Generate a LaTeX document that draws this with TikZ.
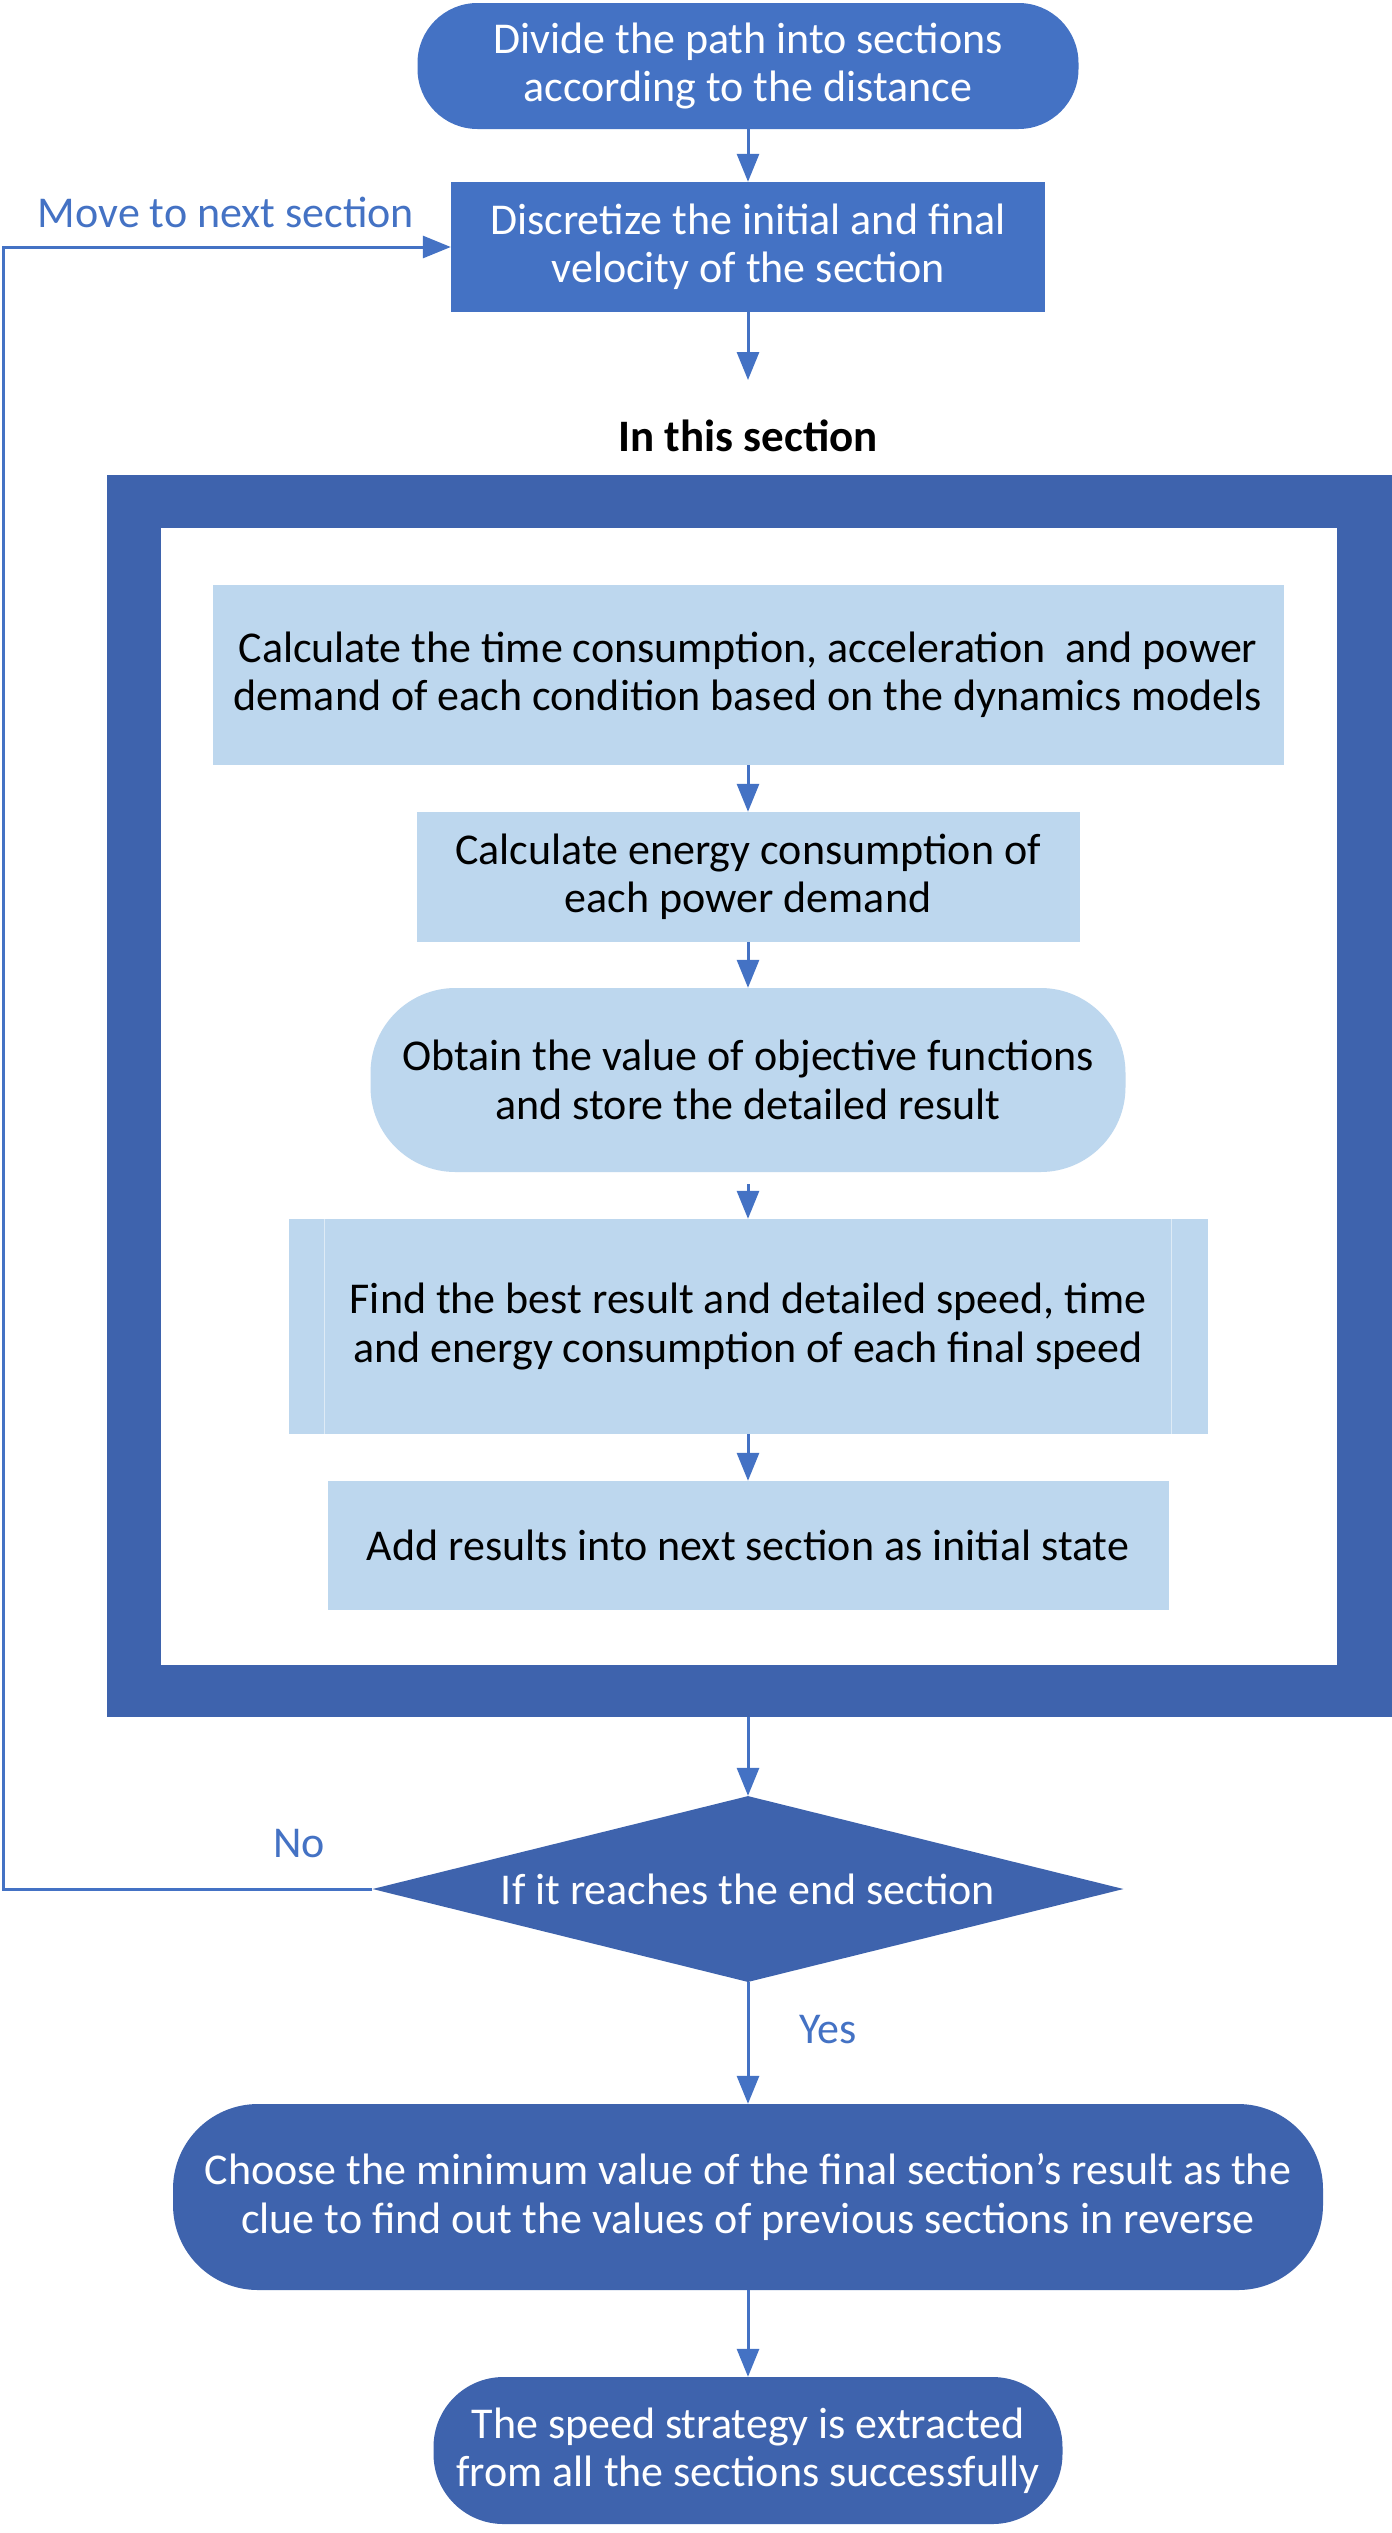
\documentclass[tikz,border=0pt]{standalone}
\usepackage{fontspec}
\setmainfont{Carlito}
\usetikzlibrary{arrows.meta,shapes.geometric}
\definecolor{mid}{HTML}{4472C4}
\definecolor{dark}{HTML}{3E63AD}
\definecolor{light}{HTML}{BDD7EE}
\tikzset{
  x=1pt,y=-1pt,
  txt/.style={font=\fontsize{44}{48.5}\selectfont,align=center,inner sep=0pt},
  midterm/.style={txt,fill=mid,text=white,rounded corners=60pt},
  midbox/.style={txt,fill=mid,text=white},
  lightbox/.style={txt,fill=light,text=black},
  lightterm/.style={txt,fill=light,text=black,rounded corners=85pt},
  darkterm/.style={txt,fill=dark,text=white,rounded corners=85pt},
  conn/.style={draw=mid,line width=3pt,-{Triangle[length=28pt,width=22pt]}},
  lbl/.style={font=\fontsize{44}{48.5}\selectfont,text=mid,inner sep=0pt},
}
\begin{document}
\begin{tikzpicture}
\useasboundingbox[fill=white] (0,0) rectangle (1392,2533);
% frame
\node[fill=dark,minimum width=1285pt,minimum height=1242pt,inner sep=0pt] (frame) at (749.5,1096) {};
\node[fill=white,minimum width=1176pt,minimum height=1137pt,inner sep=0pt] (inner) at (749,1096.5) {};

\node[midterm,minimum width=661pt,minimum height=126pt] (start) at (748,66) {Divide the path into sections\\according to the distance};
\node[midbox,minimum width=594pt,minimum height=130pt] (disc) at (748,247) {Discretize the initial and final\\velocity of the section};
\node[font=\bfseries\fontsize{45}{48.5}\selectfont,inner sep=0pt] (insec) at (748,436) {In this section};
\coordinate (insectop) at (748,380);

\node[lightbox,minimum width=1071pt,minimum height=180pt] (calc) at (748,675) {Calculate the time consumption, acceleration\ \ and power\\demand of each condition based on the dynamics models};
\node[lightbox,minimum width=663pt,minimum height=130pt] (energy) at (748,877) {Calculate energy consumption of\\each power demand};
\node[lightterm,minimum width=755pt,minimum height=184pt] (obtain) at (748,1080) {Obtain the value of objective functions\\and store the detailed result};
\node[lightbox,minimum width=919pt,minimum height=215pt] (find) at (748,1326.5) {Find the best result and detailed speed, time\\and energy consumption of each final speed};
\draw[draw=white,line width=0.6pt,opacity=0.5] ([xshift=36pt]find.north west) -- ([xshift=36pt]find.south west)
  ([xshift=-36pt]find.north east) -- ([xshift=-36pt]find.south east);
\node[lightbox,minimum width=841pt,minimum height=129pt] (add) at (748,1545.5) {Add results into next section as initial state};

\node[diamond,fill=dark,text=white,font=\fontsize{44}{48.5}\selectfont,inner sep=0pt,minimum width=751pt,minimum height=186pt,aspect=4] (cond) at (748,1889) {If it reaches the end section};
\node[darkterm,minimum width=1150pt,minimum height=186pt] (choose) at (748,2197) {Choose the minimum value of the final section’s result as the\\clue to find out the values of previous sections in reverse};
\node[darkterm,minimum width=629pt,minimum height=147pt,rounded corners=70pt] (final) at (748,2450.5) {The speed strategy is extracted\\from all the sections successfully};

\node[lbl] (move) at (226,212) {Move to next section};
\node[lbl] (no) at (299,1844) {No};
\node[lbl] (yes) at (828,2030) {Yes};

\coordinate (loopA) at (3,1889);
\coordinate (loopB) at (3,247);

\draw[conn] (start.south) -- (disc.north);
\draw[conn] (disc.south) -- (insectop);
\draw[conn] (calc.south) -- (energy.north);
\draw[conn] (energy.south) -- (obtain.north);
\draw[conn] ([yshift=-12pt]obtain.south) -- (find.north);
\draw[conn] (find.south) -- (add.north);
\draw[conn] (frame.south -| cond.north) -- (cond.north);
\draw[conn] (cond.south) -- (choose.north);
\draw[conn] (choose.south) -- (final.north);
\draw[conn] (cond.west) -- (loopA) -- (loopB) -- (disc.west);
\end{tikzpicture}
\end{document}
